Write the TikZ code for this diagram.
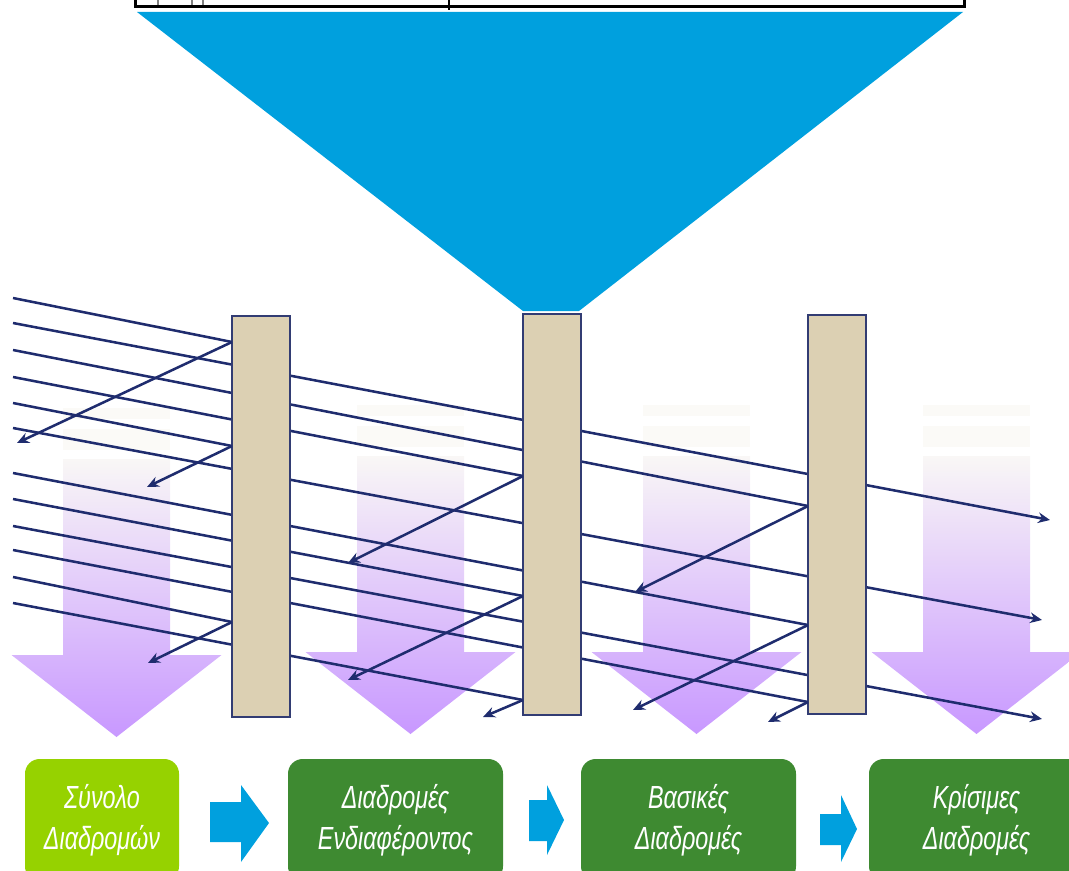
\documentclass[tikz,border=0pt]{standalone}
\usepackage{fontspec}
\setmainfont{Liberation Sans}
\newfontfamily\boxfont[FakeStretch=0.73]{Liberation Sans}
\usetikzlibrary{arrows.meta}
\definecolor{raycol}{RGB}{31,44,110}
\definecolor{pillarfill}{RGB}{220,208,179}
\definecolor{pillarcol}{RGB}{50,60,115}
\definecolor{funnelcol}{RGB}{0,160,222}
\definecolor{limebox}{RGB}{150,210,0}
\definecolor{greenbox}{RGB}{62,138,49}
\definecolor{lavtop}{RGB}{249,247,246}
\definecolor{lavbot}{RGB}{200,152,255}
\definecolor{bandcol}{RGB}{251,250,247}
\tikzset{
  raystyle/.style={draw=raycol, line width=1.9pt},
  raytip/.style={-{Stealth[length=9pt,width=8pt,inset=3pt]}},
  pillarbox/.style={rectangle, draw=pillarcol, line width=1.6pt, fill=pillarfill, minimum width=43.5pt, inner sep=0pt},
  stagebox/.style={rectangle, rounded corners=11pt, minimum height=91.5pt, inner sep=0pt, text=white, align=center,
    font=\boxfont\itshape\fontsize{24pt}{30.75pt}\selectfont},
  flowarrow/.style={fill=funnelcol}
}
\begin{document}
\begin{tikzpicture}[x=0.75pt,y=-0.75pt]
\useasboundingbox (0,0) rectangle (1069,870);
\clip (0,0) rectangle (1069,870);

% top bar
\draw[black, line width=2.25pt, fill=white] (135.5,-10) rectangle (964.5,6.5);
\foreach \x in {158,192,203} \draw[gray, line width=0.8pt] (\x,-2) -- (\x,5);
\draw[black, line width=1.2pt] (449,-2) -- (449,10);

% funnel
\fill[funnelcol] (137,12) -- (963,12) -- (579,311) -- (523,311) -- cycle;

% faded down arrows
\foreach \c/\d in {116.5/3,410.5/0,696.5/0,976.5/0} {
  \fill[bandcol] ({\c-53.5},{405+\d}) rectangle ({\c+53.5},{416+\d});
  \fill[bandcol] ({\c-53.5},{426+\d}) rectangle ({\c+53.5},{447+\d});
  \path[top color=lavtop,bottom color=lavbot] ({\c-53.5},{456+\d}) -- ({\c+53.5},{456+\d}) -- ({\c+53.5},{652+\d}) -- ({\c+105},{652+\d}) -- (\c,{734+\d}) -- ({\c-105},{652+\d}) -- ({\c-53.5},{652+\d}) -- cycle;
}

% ray coordinates
\foreach \i/\sy/\hx/\hy in {1/298/232/342, 2/323/1050/520, 3/350/808/506, 4/377/523/476,
  5/403/232/446, 6/428/1042/620, 7/473/808/625, 8/499/523/596, 9/526/1042/719,
  10/550/808/702, 11/577/232/622, 12/603/523/700} {
  \coordinate (s\i) at (13,\sy);
  \coordinate (h\i) at (\hx,\hy);
}
% incident rays
\foreach \i in {1,3,4,5,7,8,10,11,12} \draw[raystyle] (s\i) -- (h\i);
\foreach \i in {2,6,9} \draw[raystyle,raytip] (s\i) -- (h\i);

% pillars
\node[pillarbox, minimum height=300.75pt] (p1) at (261,516.5) {};
\node[pillarbox, minimum height=300.75pt] (p2) at (552,514.5) {};
\node[pillarbox, minimum height=299.25pt] (p3) at (837,514.5) {};

% reflected rays
\foreach \i/\ex/\ey in {1/17/443, 5/147/487, 11/148/663, 4/348/563, 8/348/680, 12/483/717,
  3/635/592, 7/633/710, 10/768/722} {
  \coordinate (r\i) at (\ex,\ey);
  \draw[raystyle,raytip] (h\i) -- (r\i);
}

% stage boxes
\node[stagebox, fill=limebox, minimum width=115.5pt] (b1) at (102,820) {Σύνολο\\Διαδρομών};
\node[stagebox, fill=greenbox, minimum width=161.25pt] (b2) at (395.5,820) {Διαδρομές\\Ενδιαφέροντος};
\node[stagebox, fill=greenbox, minimum width=161.25pt] (b3) at (688.5,820) {Βασικές\\Διαδρομές};
\node[stagebox, fill=greenbox, minimum width=161.25pt] (b4) at (976.5,820) {Κρίσιμες\\Διαδρομές};

% flow arrows
\fill[flowarrow] (210,802) -- (241,802) -- (241,785) -- (269,823) -- (241,862) -- (241,842) -- (210,842) -- cycle;
\fill[flowarrow] (529,800) -- (547,800) -- (547,785) -- (564,820) -- (547,855) -- (547,841) -- (529,841) -- cycle;
\fill[flowarrow] (820,814) -- (841,814) -- (841,795) -- (857,829) -- (841,862) -- (841,845) -- (820,845) -- cycle;
\end{tikzpicture}
\end{document}
